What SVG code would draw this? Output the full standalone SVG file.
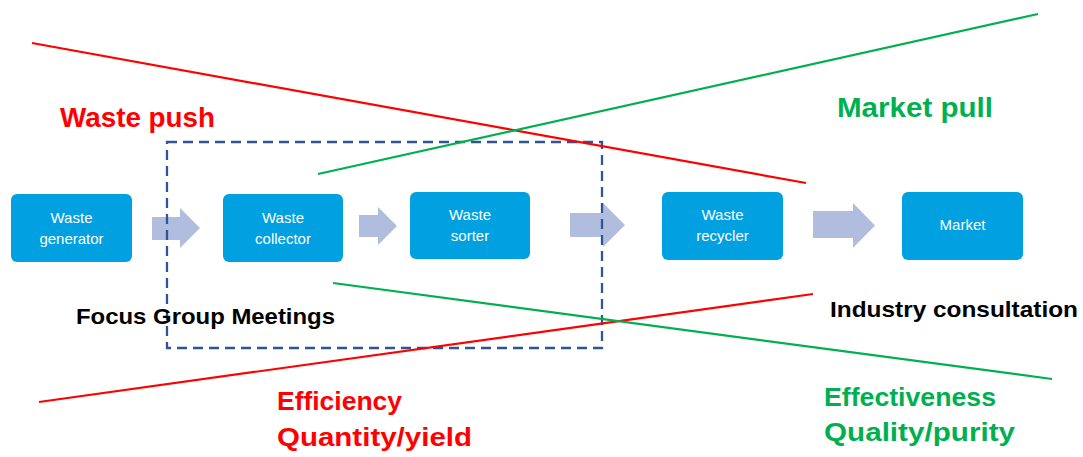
<svg xmlns="http://www.w3.org/2000/svg" width="1083" height="457" viewBox="0 0 1083 457">
<style>
.box{fill:#00A0E1;}
.bt{font-family:"Liberation Sans",Arial,sans-serif;font-size:15px;fill:#FFFFFF;text-anchor:middle;}
.arr{fill:#B1BDDF;}
.lbl{font-family:"Liberation Sans",Arial,sans-serif;font-weight:bold;}
.red{stroke:#FF0000;stroke-width:2.2;fill:none;}
.grn{stroke:#00B050;stroke-width:2.2;fill:none;}
.dash{stroke:#2F5597;stroke-width:2.3;fill:none;stroke-dasharray:10 6;}
</style>
<rect width="1083" height="457" fill="#FFFFFF"/>
<g id="connectors">
<polygon class="arr" points="152,217 180,217 180,208 200,228 180,248 180,240 152,240"/>
<polygon class="arr" points="359,215 378,215 378,207 397,226 378,245 378,237 359,237"/>
<polygon class="arr" points="570,213 603,213 603,203 625,225 603,247 603,237 570,237"/>
<polygon class="arr" points="813,211 853,211 853,203 875,225.5 853,248 853,238 813,238"/>
</g>
<g id="node-generator">
<rect class="box" x="11" y="194" width="121" height="68" rx="6"/>
<text class="bt" x="71.5" y="223">Waste</text>
<text class="bt" x="71.5" y="244">generator</text>
</g>
<g id="node-collector">
<rect class="box" x="223" y="194" width="120" height="68" rx="6"/>
<text class="bt" x="283" y="223">Waste</text>
<text class="bt" x="283" y="244">collector</text>
</g>
<g id="node-sorter">
<rect class="box" x="410" y="192" width="120" height="67" rx="6"/>
<text class="bt" x="470" y="220">Waste</text>
<text class="bt" x="470" y="241">sorter</text>
</g>
<g id="node-recycler">
<rect class="box" x="662" y="192" width="121" height="68" rx="6"/>
<text class="bt" x="722.5" y="220">Waste</text>
<text class="bt" x="722.5" y="241">recycler</text>
</g>
<g id="node-market">
<rect class="box" x="902" y="192" width="121" height="68" rx="6"/>
<text class="bt" x="962.5" y="230">Market</text>
</g>
<g id="focus-box">
<rect class="dash" x="167" y="142" width="435" height="206"/>
</g>
<g id="lines">
<line class="red" x1="32" y1="43" x2="806" y2="183"/>
<line class="grn" x1="318" y1="174" x2="1038" y2="14"/>
<line class="red" x1="39" y1="402" x2="813" y2="294"/>
<line class="grn" x1="333" y1="283" x2="1052" y2="379"/>
</g>
<g id="labels">
<text class="lbl" x="60" y="127" font-size="27" fill="#FF0000" textLength="155" lengthAdjust="spacingAndGlyphs">Waste push</text>
<text class="lbl" x="837" y="117" font-size="27" fill="#00B050" textLength="156" lengthAdjust="spacingAndGlyphs">Market pull</text>
<text class="lbl" x="76" y="324" font-size="22" fill="#000000" textLength="259" lengthAdjust="spacingAndGlyphs">Focus Group Meetings</text>
<text class="lbl" x="830" y="317" font-size="22" fill="#000000" textLength="248" lengthAdjust="spacingAndGlyphs">Industry consultation</text>
<text class="lbl" x="277" y="410" font-size="26" fill="#FF0000" textLength="125" lengthAdjust="spacingAndGlyphs">Efficiency</text>
<text class="lbl" x="277" y="446" font-size="26" fill="#FF0000" textLength="195" lengthAdjust="spacingAndGlyphs">Quantity/yield</text>
<text class="lbl" x="824" y="406" font-size="26" fill="#00B050" textLength="172" lengthAdjust="spacingAndGlyphs">Effectiveness</text>
<text class="lbl" x="824" y="441" font-size="26" fill="#00B050" textLength="191" lengthAdjust="spacingAndGlyphs">Quality/purity</text>
</g>
</svg>
